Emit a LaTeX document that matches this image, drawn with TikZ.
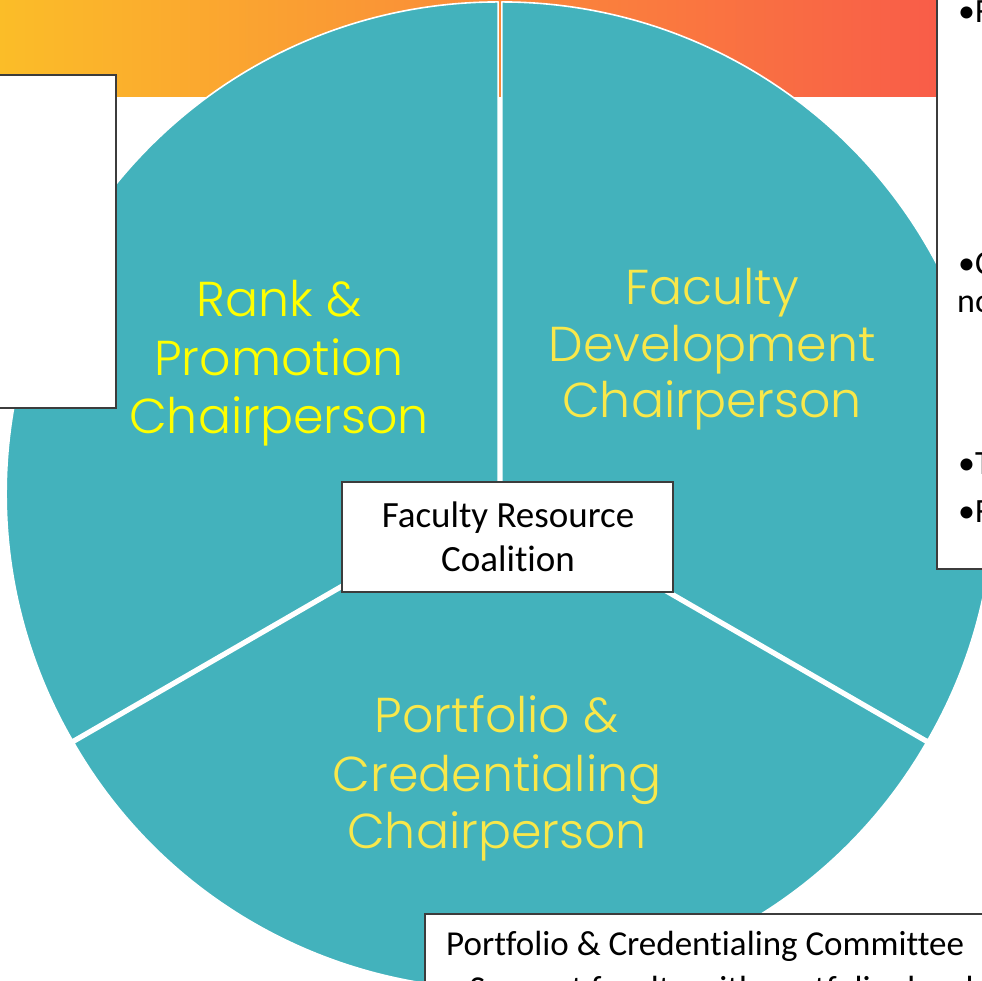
\documentclass[tikz,border=0pt]{standalone}
\usepackage{fontspec}
\setmainfont{Carlito}[Ligatures={NoCommon}]
\newfontfamily\chairfont{Poppins Light}
\usetikzlibrary{calc}
\definecolor{teal1}{HTML}{43B2BC}
\definecolor{yel1}{HTML}{FFFF00}
\definecolor{yel2}{HTML}{F9E84A}
\definecolor{bandL}{HTML}{FBBD28}
\definecolor{bandM}{HTML}{F7941D}
\definecolor{bandR}{HTML}{F9584A}
\definecolor{boxgray}{HTML}{3C3C3C}
\begin{document}
\begin{tikzpicture}[x=1pt,y=1pt,
  sector/.style={fill=teal1, draw=white, line width=1.6pt, line join=round},
  boxw/.style={fill=white, draw=boxgray, line width=1.5pt, inner sep=0pt, outer sep=0pt},
  chairR/.style={text=yel1, font=\chairfont\fontsize{49}{58}\selectfont, anchor=base, inner sep=0pt},
  chair/.style={chairR, text=yel2},
  boxtext/.style={font=\fontsize{37}{44}\selectfont, inner sep=0pt},
  bottext/.style={font=\fontsize{35}{43}\selectfont, anchor=base west, inner sep=0pt},
  sidetext/.style={font=\fontsize{34}{40}\selectfont, anchor=base west, inner sep=0pt},
]
\useasboundingbox (0,0) rectangle (982,980);
\clip (0,0) rectangle (982,980);
% gradient band
\shade[left color=bandL, middle color=bandM, right color=bandR] (0,883) rectangle (982,982);
% pie
\coordinate (C) at (500,485);
\path[sector] ($(C)+(150:2.1)$) -- ++(90:492) arc[start angle=90, end angle=210, radius=492] -- cycle;
\path[sector] ($(C)+(30:2.1)$) -- ++(-30:492) arc[start angle=-30, end angle=90, radius=492] -- cycle;
\path[sector] ($(C)+(270:2.1)$) -- ++(210:492) arc[start angle=210, end angle=330, radius=492] -- cycle;
% sector labels
\node[chairR] (rp1) at (279,663) {Rank \&};
\node[chairR] (rp2) at (279,604) {Promotion};
\node[chairR] (rp3) at (279,546) {Chairperson};
\node[chair] (fd1) at (712,675) {Faculty};
\node[chair] (fd2) at (712,618) {Development};
\node[chair] (fd3) at (712,562) {Chairperson};
\node[chair] (pc1) at (497,247) {Portfolio \&};
\node[chair] (pc2) at (497,188) {Credentialing};
\node[chair] (pc3) at (497,132) {Chairperson};
% boxes
\node[boxw, anchor=north east, minimum width=125, minimum height=333] (lbox) at (116,905) {};
\node[boxw, anchor=south west, minimum width=80, minimum height=600] (rbox) at (937,411) {};
\node[boxw, anchor=north west, minimum width=600, minimum height=100] (bbox) at (425,66) {};
\node[boxw, minimum width=331, minimum height=110] (frc) at (507.5,443) {};
\node[boxtext, align=center] (frct) at (508,443) {Faculty Resource\\Coalition};
% right box text
\node[sidetext] (r1) at (958,957) {•F};
\node[sidetext] (r2) at (958,705) {•C};
\node[sidetext] (r3) at (957,667) {no};
\node[sidetext] (r4) at (958,505) {•T};
\node[sidetext] (r5) at (958,457) {•F};
% bottom box text
\node[bottext] (b1) at (446,25) {Portfolio \& Credentialing Committee};
\node[bottext] (b2) at (446,-20) {•\,Support faculty with portfolio development};
\end{tikzpicture}
\end{document}
